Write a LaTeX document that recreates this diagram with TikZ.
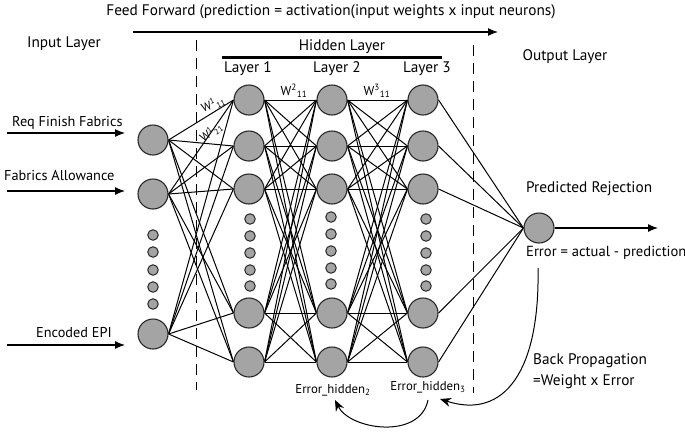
\documentclass[tikz,border=0pt]{standalone}
\usepackage{fontspec}
\setmainfont{PT Sans}
\usetikzlibrary{arrows.meta,backgrounds}
\definecolor{nfill}{RGB}{164,164,164}
\definecolor{nline}{RGB}{40,40,40}
\tikzset{
  neuron/.style={circle,draw=nline,fill=nfill,line width=1.1pt,minimum size=30pt,inner sep=0pt},
  dotn/.style={circle,draw=nline,fill=nfill,line width=1pt,minimum size=10.5pt,inner sep=0pt},
  conn/.style={line width=1pt,black},
  lbl/.style={font=\fontsize{15.3}{17}\selectfont,inner sep=0pt},
  slbl/.style={font=\fontsize{14.3}{16}\selectfont,inner sep=0pt},
  tlbl/.style={font=\fontsize{12.8}{14}\selectfont,inner sep=0pt},
  wlbl/.style={font=\fontsize{13}{14}\selectfont,inner sep=0pt},
  rwlbl/.style={font=\fontsize{12}{13}\selectfont,inner sep=0pt},
  inarrow/.style={line width=1.2pt,-{Latex[length=10pt,width=8pt]}},
  bparrow/.style={line width=1pt,-{Stealth[length=11pt,width=9pt]}},
  dline/.style={line width=1pt,dash pattern=on 11pt off 7pt}
}
\begin{document}
\begin{tikzpicture}[x=1pt,y=-1pt]
\useasboundingbox (0,0) rectangle (685,434);
% titles
\node[lbl] (ff) at (331,12) {Feed Forward (prediction = activation(input weights x input neurons)};
\coordinate (ffa) at (133,32);
\coordinate (ffb) at (498,32);
\draw[line width=1.3pt,-{Latex[length=10pt,width=8pt]}] (ffa) -- (ffb);
\node[lbl] (inl) at (64,44) {Input Layer};
\node[lbl] (hl) at (342,47) {Hidden Layer};
\coordinate (hb1) at (222,57);
\coordinate (hb2) at (442,57);
\draw[line width=3pt] (hb1) -- (hb2);
\node[lbl] (l1) at (248,69) {Layer 1};
\node[lbl] (l2) at (337,69) {Layer 2};
\node[lbl] (l3) at (427,69) {Layer 3};
\node[lbl] (outl) at (565,57) {Output Layer};
% dashed separators
\coordinate (dl1) at (196,40);
\coordinate (dl2) at (196,390);
\coordinate (dr1) at (473,45);
\coordinate (dr2) at (473,393);
\draw[dline] (dl1) -- (dl2);
\draw[dline] (dr1) -- (dr2);
% input neurons
\node[neuron] (i1) at (153,140) {};
\node[neuron] (i2) at (153,194) {};
\node[neuron] (i3) at (153,334) {};
\foreach \y [count=\k] in {235,252,270,287,304} \node[dotn] (di\k) at (153,\y) {};
% hidden layers
\foreach \n/\x in {a/249,b/332,c/423}{
  \foreach \y [count=\k] in {100,146,189,313,362} \node[neuron] (\n\k) at (\x,\y) {};
}
\foreach \y [count=\k] in {219,236,253,270,286} \node[dotn] (da\k) at (250,\y) {};
\foreach \y [count=\k] in {217,234,251,268,284} \node[dotn] (db\k) at (331,\y) {};
\foreach \y [count=\k] in {219,236,253,270,286} \node[dotn] (dc\k) at (426,\y) {};
% output
\node[neuron] (out) at (539,228) {};
% connections
\begin{scope}[on background layer]
\foreach \i in {1,2,3} \foreach \j in {1,...,5} \draw[conn] (i\i.east) -- (a\j.west);
\foreach \i in {1,...,5} \foreach \j in {1,...,5} \draw[conn] (a\i.east) -- (b\j.west);
\foreach \i in {1,...,5} \foreach \j in {1,...,5} \draw[conn] (b\i.east) -- (c\j.west);
\foreach \i in {1,...,5} \draw[conn] (c\i.east) -- (out.west);
\end{scope}
% input arrows
\coordinate (r0) at (7,133); \coordinate (r1) at (125,133);
\coordinate (f0) at (7,191); \coordinate (f1) at (125,191);
\coordinate (e0) at (7,345); \coordinate (e1) at (125,345);
\draw[inarrow] (r0) -- (r1);
\draw[inarrow] (f0) -- (f1);
\draw[inarrow] (e0) -- (e1);
\node[slbl,anchor=west] (tr) at (12,123) {Req Finish Fabrics};
\node[slbl,anchor=west] (tf) at (4,175) {Fabrics Allowance};
\node[slbl,anchor=west] (te) at (36,333) {Encoded EPI};
% output arrow
\coordinate (o1) at (658,228);
\draw[inarrow] (out.east) -- (o1);
\node[lbl,anchor=west] (pr) at (526,189) {Predicted Rejection};
\node[lbl,anchor=west,font=\fontsize{14.6}{16}\selectfont] (err) at (526,253) {Error = actual - prediction};
\node[lbl,anchor=west] (bp) at (533,361) {Back Propagation};
\node[lbl,anchor=west] (wx) at (533,382) {=Weight x Error};
% weight labels
\node[rwlbl,rotate=22] (w111) at (213,104) {W\textsuperscript{1}\textsubscript{11}};
\node[rwlbl,rotate=36] (w121) at (211,132) {W\textsuperscript{1}\textsubscript{21}};
\node[wlbl] (w211) at (294,91) {W\textsuperscript{2}\textsubscript{11}};
\node[wlbl] (w311) at (377,91) {W\textsuperscript{3}\textsubscript{11}};
% error hidden labels
\node[tlbl] (eh2) at (333,390) {Error\_hidden\textsubscript{2}};
\node[tlbl] (eh3) at (428,387) {Error\_hidden\textsubscript{3}};
% back propagation curves
\coordinate (bs) at (538,268);
\coordinate (be) at (440,399);
\draw[bparrow] (bs) .. controls (540,370) and (505,420) .. (be);
\coordinate (cs) at (428,400);
\coordinate (ce) at (335,400);
\draw[bparrow] (cs) .. controls (420,440) and (350,430) .. (ce);
\end{tikzpicture}
\end{document}
